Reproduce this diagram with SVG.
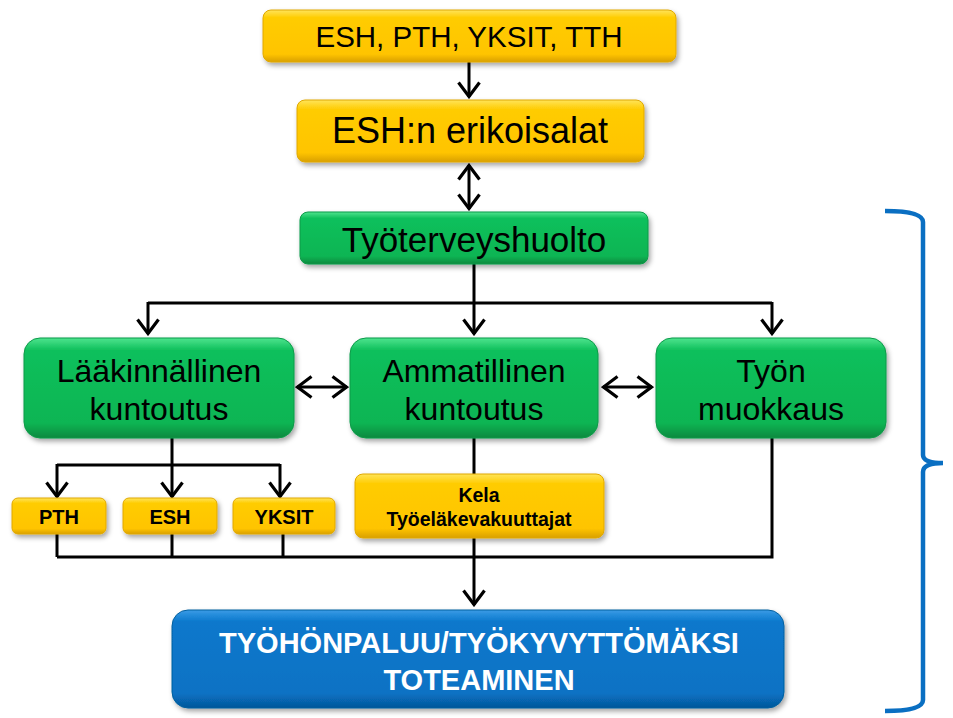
<svg xmlns="http://www.w3.org/2000/svg" width="953" height="718" viewBox="0 0 953 718">
<defs>
<linearGradient id="gy" x1="0" y1="0" x2="0" y2="1"><stop offset="0" stop-color="#FFE45A"/><stop offset="0.15" stop-color="#FFCC00"/><stop offset="0.85" stop-color="#FFC400"/><stop offset="1" stop-color="#D9A000"/></linearGradient>
<linearGradient id="gg" x1="0" y1="0" x2="0" y2="1"><stop offset="0" stop-color="#4EE48E"/><stop offset="0.12" stop-color="#10C05C"/><stop offset="0.85" stop-color="#0CB553"/><stop offset="1" stop-color="#08893F"/></linearGradient>
<linearGradient id="gb" x1="0" y1="0" x2="0" y2="1"><stop offset="0" stop-color="#3A9BE6"/><stop offset="0.12" stop-color="#0A78CC"/><stop offset="0.85" stop-color="#0872C4"/><stop offset="1" stop-color="#05569A"/></linearGradient>
<filter id="sh" x="-10%" y="-10%" width="125%" height="140%"><feDropShadow dx="2" dy="3" stdDeviation="2.5" flood-color="#000" flood-opacity="0.35"/></filter>
<marker id="ah" viewBox="0 0 18 24" refX="16" refY="12" markerWidth="18" markerHeight="24" markerUnits="userSpaceOnUse" orient="auto-start-reverse"><path d="M1.5,1.5 L15.5,12 L1.5,22.5" fill="none" stroke="#000" stroke-width="3.2"/></marker>
<style>
.y{fill:url(#gy);filter:url(#sh);stroke:#E0A800;stroke-width:1}
.g{fill:url(#gg);filter:url(#sh);stroke:#0A9A48;stroke-width:1}
.b{fill:url(#gb);filter:url(#sh);stroke:#05609F;stroke-width:1}
text{font-family:"Liberation Sans",Arial,sans-serif;text-anchor:middle;fill:#000}
.bt{font-weight:bold}
.w{fill:#fff;font-weight:bold}
.c{fill:none;stroke:#000;stroke-width:3}
.a{marker-end:url(#ah)}
.d{marker-start:url(#ah);marker-end:url(#ah)}
</style>
</defs>
<rect width="953" height="718" fill="#fff"/>
<g id="connectors">
<line class="c a" x1="469" y1="62" x2="469" y2="97"/>
<line class="c d" x1="469" y1="165" x2="469" y2="209"/>
<line class="c" x1="474" y1="264" x2="474" y2="303"/>
<line class="c" x1="148" y1="303" x2="772" y2="303"/>
<line class="c a" x1="148" y1="302" x2="148" y2="334"/>
<line class="c a" x1="474" y1="302" x2="474" y2="334"/>
<line class="c a" x1="772" y1="302" x2="772" y2="334"/>
<line class="c d" x1="297" y1="387" x2="347" y2="387"/>
<line class="c d" x1="603" y1="387" x2="652" y2="387"/>
<line class="c" x1="172" y1="438" x2="172" y2="465"/>
<line class="c" x1="57" y1="465" x2="280" y2="465"/>
<line class="c a" x1="57" y1="464" x2="57" y2="497"/>
<line class="c a" x1="172" y1="464" x2="172" y2="497"/>
<line class="c a" x1="280" y1="464" x2="280" y2="497"/>
<line class="c" x1="474" y1="438" x2="474" y2="474"/>
<line class="c" x1="57" y1="534" x2="57" y2="557"/>
<line class="c" x1="172" y1="534" x2="172" y2="557"/>
<line class="c" x1="283" y1="534" x2="283" y2="557"/>
<line class="c" x1="474" y1="538" x2="474" y2="557"/>
<polyline class="c" points="57,557 772,557 772,438"/>
<line class="c a" x1="474" y1="556" x2="474" y2="605"/>
</g>
<g id="n1"><rect class="y" x="263" y="10" width="413" height="52" rx="8"/><text x="469" y="47" font-size="29.5">ESH, PTH, YKSIT, TTH</text></g>
<g id="n2"><rect class="y" x="297" y="100" width="347" height="62" rx="8"/><text x="470" y="143" font-size="36">ESH:n erikoisalat</text></g>
<g id="n3"><rect class="g" x="300" y="212" width="348" height="52" rx="8"/><text x="474" y="252" font-size="35">Työterveyshuolto</text></g>
<g id="n4"><rect class="g" x="24" y="338" width="270" height="100" rx="16"/><text x="159" y="382" font-size="32">Lääkinnällinen</text><text x="159" y="420" font-size="32">kuntoutus</text></g>
<g id="n5"><rect class="g" x="350" y="338" width="248" height="100" rx="16"/><text x="474" y="382" font-size="32">Ammatillinen</text><text x="474" y="420" font-size="32">kuntoutus</text></g>
<g id="n6"><rect class="g" x="656" y="338" width="230" height="100" rx="16"/><text x="771" y="382" font-size="32">Työn</text><text x="771" y="420" font-size="32">muokkaus</text></g>
<g id="n7"><rect class="y" x="12" y="498" width="94" height="36" rx="6"/><text class="bt" x="59" y="524" font-size="20">PTH</text></g>
<g id="n8"><rect class="y" x="123" y="498" width="94" height="36" rx="6"/><text class="bt" x="170" y="524" font-size="20">ESH</text></g>
<g id="n9"><rect class="y" x="233" y="498" width="102" height="36" rx="6"/><text class="bt" x="284" y="524" font-size="20">YKSIT</text></g>
<g id="n10"><rect class="y" x="355" y="474" width="249" height="64" rx="8"/><text class="bt" x="479" y="502" font-size="19.5">Kela</text><text class="bt" x="479" y="526" font-size="19.5">Työeläkevakuuttajat</text></g>
<g id="n11"><rect class="b" x="172" y="610" width="612" height="98" rx="16"/><text class="w" x="479" y="653" font-size="29">TYÖHÖNPALUU/TYÖKYVYTTÖMÄKSI</text><text class="w" x="479" y="690" font-size="29">TOTEAMINEN</text></g>
<g id="brace"><path d="M885,211 Q923,211 923,222 L923,455 Q923,463 943,463 Q923,463 923,472 L923,700 Q923,711 885,711" fill="none" stroke="#0A6FC2" stroke-width="4.5"/></g>
</svg>
